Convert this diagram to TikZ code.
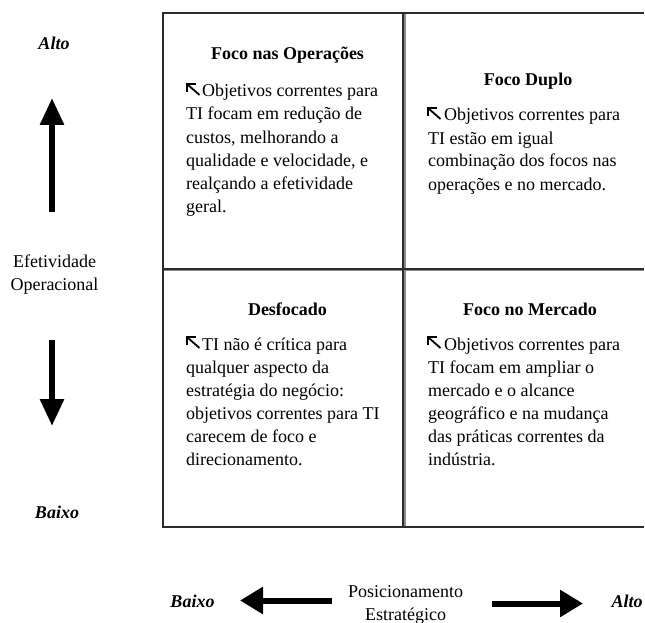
\documentclass[tikz,border=0pt]{standalone}
\usepackage{fontspec}
\setmainfont{Liberation Serif}
\usetikzlibrary{arrows.meta}
\definecolor{gridink}{HTML}{2B2B2B}
\definecolor{gridshade}{HTML}{8C8C8C}
\tikzset{
  bodytxt/.style={anchor=base west, inner sep=0pt, font=\fontsize{18}{23}\selectfont},
  headtxt/.style={anchor=base, inner sep=0pt, font=\fontsize{18}{23}\selectfont\bfseries},
  axistxt/.style={anchor=base, inner sep=0pt, font=\fontsize{18}{23}\selectfont},
  endtxt/.style={anchor=base, inner sep=0pt, font=\fontsize{18}{23}\selectfont\bfseries\itshape},
  vbigarrow/.style={line width=6pt, -{Triangle[length=27pt,width=23pt]}},
  hbigarrow/.style={line width=6pt, -{Triangle[length=23pt,width=26pt]}},
  gridline/.style={draw=gridink, line width=2pt},
  gridshadow/.style={draw=gridshade, line width=2.2pt},
  nwmark/.style={line width=1.8pt, line cap=butt, line join=miter}
}
% small north-west pointer placed before the first line of each quadrant text
\newcommand\pointer[2]{%
  \draw[nwmark] ({#1+9},{#2-13}) -- (#1,{#2-13}) -- (#1,{#2-5});
  \draw[nwmark] ({#1+0.6},{#2-12.4}) -- ({#1+12.5},{#2-2});}
\begin{document}
\begin{tikzpicture}[x=1pt,y=-1pt]
\useasboundingbox (0,0) rectangle (645,623);

% ---- quadrant grid ----
\draw[gridshadow] (404.6,13.5) -- (404.6,527);
\draw[gridshadow] (163,270.3) -- (644,270.3);
\draw[gridline] (644,13.5) -- (163,13.5) -- (163,527) -- (644,527);
\draw[gridline] (402.8,13.5) -- (402.8,527);
\draw[gridline] (163,268.6) -- (644,268.6);

% ---- top left: Foco nas Operações ----
\node[headtxt] (tlhead) at (287.5,60) {Foco nas Operações};
\pointer{187}{97}
\node[bodytxt] (tl1) at (202,97) {Objetivos correntes para};
\node[bodytxt] (tl2) at (186,120) {TI focam em redução de};
\node[bodytxt] (tl3) at (186,143) {custos, melhorando a};
\node[bodytxt] (tl4) at (186,166) {qualidade e velocidade, e};
\node[bodytxt] (tl5) at (186,189) {realçando a efetividade};
\node[bodytxt] (tl6) at (186,212) {geral.};

% ---- top right: Foco Duplo ----
\node[headtxt] (trhead) at (528,86) {Foco Duplo};
\pointer{428}{121}
\node[bodytxt] (tr1) at (444,121) {Objetivos correntes para};
\node[bodytxt] (tr2) at (428,144) {TI estão em igual};
\node[bodytxt] (tr3) at (428,167) {combinação dos focos nas};
\node[bodytxt] (tr4) at (428,190) {operações e no mercado.};

% ---- bottom left: Desfocado ----
\node[headtxt] (blhead) at (287.5,315) {Desfocado};
\pointer{187}{350}
\node[bodytxt] (bl1) at (202,350) {TI não é crítica para};
\node[bodytxt] (bl2) at (186,373) {qualquer aspecto da};
\node[bodytxt] (bl3) at (186,396) {estratégia do negócio:};
\node[bodytxt] (bl4) at (186,419) {objetivos correntes para TI};
\node[bodytxt] (bl5) at (186,442) {carecem de foco e};
\node[bodytxt] (bl6) at (186,465) {direcionamento.};

% ---- bottom right: Foco no Mercado ----
\node[headtxt] (brhead) at (530,315) {Foco no Mercado};
\pointer{428}{350}
\node[bodytxt] (br1) at (444,350) {Objetivos correntes para};
\node[bodytxt] (br2) at (428,373) {TI focam em ampliar o};
\node[bodytxt] (br3) at (428,396) {mercado e o alcance};
\node[bodytxt] (br4) at (428,419) {geográfico e na mudança};
\node[bodytxt] (br5) at (428,442) {das práticas correntes da};
\node[bodytxt] (br6) at (428,465) {indústria.};

% ---- vertical axis ----
\node[endtxt] (yhigh) at (54,50) {Alto};
\node[axistxt] (ylab1) at (54.5,267) {Efetividade};
\node[axistxt] (ylab2) at (54.5,290) {Operacional};
\node[endtxt] (ylow) at (57,518) {Baixo};
\coordinate (upTail) at (52,212);
\coordinate (upTip) at (52,98);
\coordinate (downTail) at (52,340);
\coordinate (downTip) at (52,426);
\draw[vbigarrow] (upTail) -- (upTip);
\draw[vbigarrow] (downTail) -- (downTip);

% ---- horizontal axis ----
\node[endtxt] (xlow) at (192.5,607) {Baixo};
\node[axistxt] (xlab1) at (405.5,597) {Posicionamento};
\node[axistxt] (xlab2) at (405.5,620) {Estratégico};
\node[endtxt] (xhigh) at (627,607) {Alto};
\coordinate (leftTail) at (332,600.5);
\coordinate (leftTip) at (240,600.5);
\coordinate (rightTail) at (492,603.5);
\coordinate (rightTip) at (583,603.5);
\draw[hbigarrow] (leftTail) -- (leftTip);
\draw[hbigarrow] (rightTail) -- (rightTip);
\end{tikzpicture}
\end{document}
